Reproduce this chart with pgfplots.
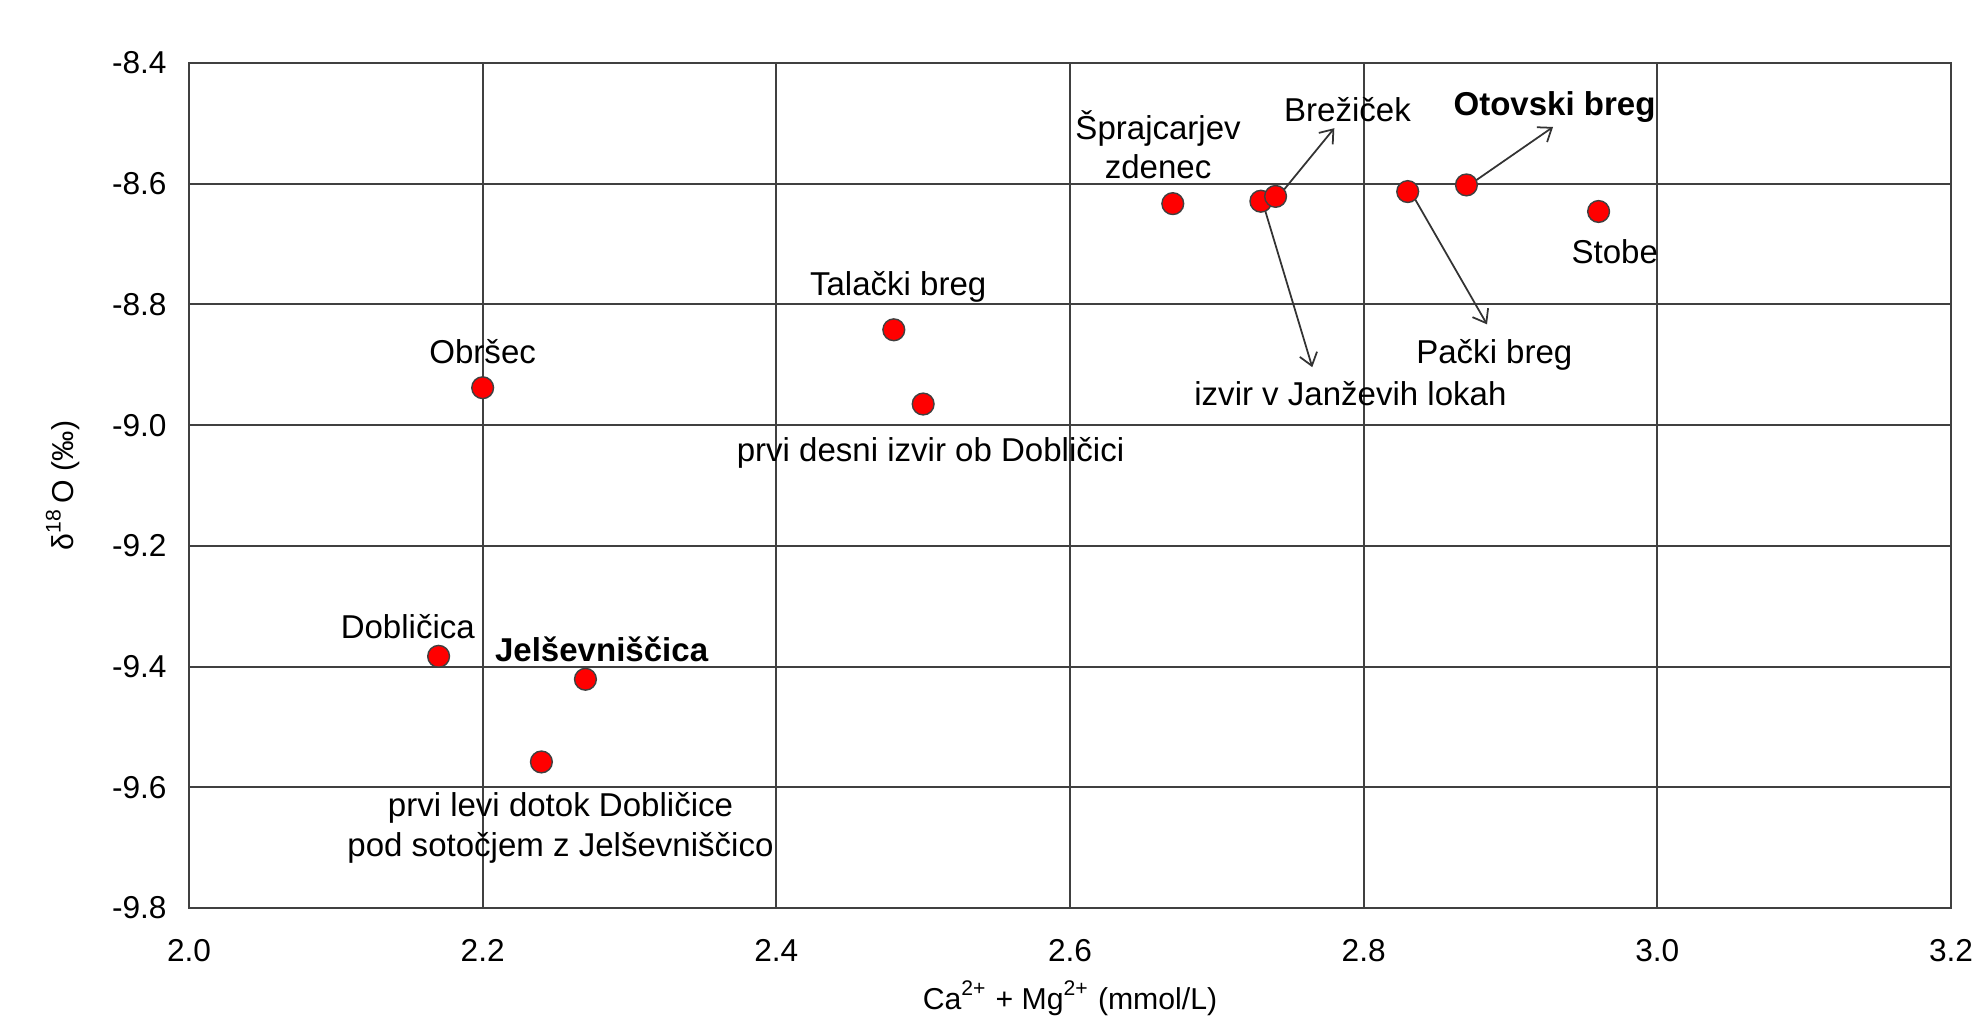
\documentclass[border=0pt]{standalone}
\usepackage{pgfplots}
\pgfplotsset{compat=1.18}
\usepackage{fontspec}
\setmainfont{Liberation Sans}
\usetikzlibrary{arrows.meta}
\definecolor{gridc}{RGB}{64,64,64}
\definecolor{ptred}{RGB}{255,0,0}
\tikzset{lbl/.style={font=\fontsize{9.4}{11.2}\selectfont, align=center}}
\begin{document}
\begin{tikzpicture}
\begin{scope}
\clip (-18.9mm,-11.0mm) rectangle (178.4mm,90.8mm);
\begin{axis}[
  at={(0,0)}, anchor=south west,
  scale only axis, width=176.2mm, height=84.5mm,
  xmin=2.0, xmax=3.2, ymin=-9.8, ymax=-8.4,
  xtick={2.0,2.2,2.4,2.6,2.8,3.0,3.2},
  ytick={-9.8,-9.6,-9.4,-9.2,-9.0,-8.8,-8.6,-8.4},
  grid=major,
  major grid style={gridc, line width=0.6pt},
  axis line style={gridc, line width=0.6pt},
  major tick length=0pt,
  /pgf/number format/assume math mode=true,
  /pgf/number format/fixed,
  /pgf/number format/fixed zerofill,
  /pgf/number format/precision=1,
  tick label style={font=\fontsize{9}{10.8}\selectfont},
  xticklabel style={yshift=-1.9mm},
  yticklabel style={xshift=-1.0mm},
  xlabel={Ca\textsuperscript{2+} + Mg\textsuperscript{2+} (mmol/L)},
  ylabel={δ\textsuperscript{18}\,O (‰)},
  every axis x label/.style={at={(axis description cs:0.5,-0.1278)}, anchor=south, inner sep=0pt, font=\fontsize{8.6}{10}\selectfont},
  every axis y label/.style={at={(axis description cs:-0.0715,0.5)}, anchor=center, rotate=90, font=\fontsize{8.6}{10}\selectfont},
  clip=false,
]
\addplot[only marks, mark=*, mark size=3.1pt,
  mark options={fill=ptred, draw=black!75, line width=0.4pt}]
  coordinates {
  (2.20,-8.938) (2.48,-8.842) (2.50,-8.965) (2.67,-8.633)
  (2.73,-8.629) (2.74,-8.621) (2.83,-8.613) (2.87,-8.602)
  (2.96,-8.646) (2.17,-9.383) (2.27,-9.421) (2.24,-9.558)
  };
\draw[black!80, -{Straight Barb[length=1.2mm,width=1.8mm]}, line width=0.5pt] (axis cs:2.742,-8.621) -- (axis cs:2.780,-8.508);
\draw[black!80, -{Straight Barb[length=1.2mm,width=1.8mm]}, line width=0.5pt] (axis cs:2.872,-8.602) -- (axis cs:2.929,-8.506);
\draw[black!80, -{Straight Barb[length=1.2mm,width=1.8mm]}, line width=0.5pt] (axis cs:2.731,-8.629) -- (axis cs:2.765,-8.904);
\draw[black!80, -{Straight Barb[length=1.2mm,width=1.8mm]}, line width=0.5pt] (axis cs:2.832,-8.613) -- (axis cs:2.884,-8.833);
\node[lbl] at (axis cs:2.200,-8.879) {Obršec};
\node[lbl] at (axis cs:2.483,-8.771) {Talački breg};
\node[lbl] at (axis cs:2.505,-9.046) {prvi desni izvir ob Dobličici};
\node[lbl] at (axis cs:2.660,-8.535) {Šprajcarjev\\zdenec};
\node[lbl] at (axis cs:2.789,-8.477) {Brežiček};
\node[lbl] at (axis cs:2.930,-8.473) {\bfseries Otovski breg};
\node[lbl] at (axis cs:2.971,-8.7125) {Stobe};
\node[lbl] at (axis cs:2.889,-8.883) {Pački breg};
\node[lbl] at (axis cs:2.791,-8.948) {izvir v Janževih lokah};
\node[lbl] at (axis cs:2.149,-9.333) {Dobličica};
\node[lbl] at (axis cs:2.281,-9.371) {\bfseries Jelševniščica};
\node[lbl] at (axis cs:2.253,-9.667) {prvi levi dotok Dobličice\\pod sotočjem z Jelševniščico};
\end{axis}
\end{scope}
\pgfresetboundingbox
\path[use as bounding box] (-18.9mm,-11.0mm) rectangle (178.4mm,90.8mm);
\end{tikzpicture}
\end{document}
